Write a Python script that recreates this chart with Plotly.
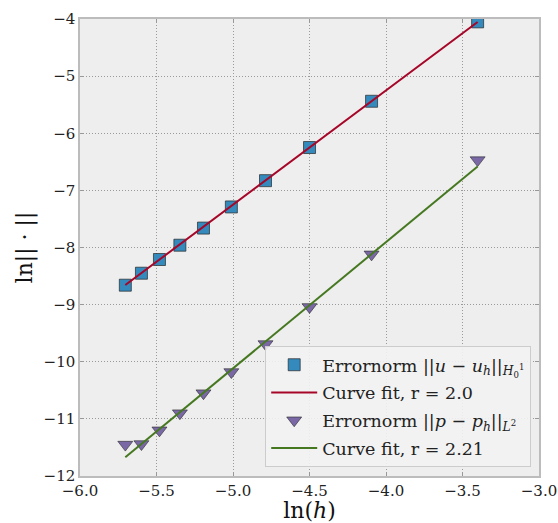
import numpy as np
import plotly.graph_objects as go

# Mesh sizes h = 1/n
n_cells = [300, 270, 240, 210, 180, 150, 120, 90, 60, 30]

# ln of the error norms at each mesh size
err_u_H1 = [-8.66, -8.45, -8.21, -7.96, -7.66, -7.29, -6.83, -6.25, -5.44, -4.05]
err_p_L2 = [-11.45, -11.44, -11.20, -10.90, -10.55, -10.18, -9.69, -9.04, -8.12, -6.47]

# Straight-line fits ln||e|| = r ln(h) + c
fit_rate = [2.0, 2.21]
fit_const = [2.75, 0.934]

ln_h = np.log(1.0 / np.array(n_cells, dtype=float))

BLUE = "#348ABD"
RED = "#A60628"
PURPLE = "#7A68A6"
GREEN = "#467821"
SERIF = "DejaVu Serif, Liberation Serif, serif"

fig = go.Figure()

fig.add_trace(go.Scatter(
    x=ln_h, y=err_u_H1, mode="markers", legendgroup="a",
    marker=dict(symbol="square", size=12, color=BLUE,
                line=dict(color="rgba(40,40,40,0.7)", width=1)),
    name="Errornorm ||<i>u</i> − <i>u</i><sub><i>h</i></sub>||<sub><i>H</i><sub>0</sub><sup>1</sup></sub>",
))
fig.add_trace(go.Scatter(
    x=ln_h, y=fit_rate[0] * ln_h + fit_const[0], mode="lines", legendgroup="b",
    line=dict(color=RED, width=2),
    name="Curve fit, r = 2.0",
))
fig.add_trace(go.Scatter(
    x=ln_h, y=err_p_L2, mode="markers", legendgroup="c",
    marker=dict(symbol="triangle-down", size=13, color=PURPLE,
                line=dict(color="rgba(40,40,40,0.6)", width=1)),
    name="Errornorm ||<i>p</i> − <i>p</i><sub><i>h</i></sub>||<sub><i>L</i><sup>2</sup></sub>",
))
fig.add_trace(go.Scatter(
    x=ln_h, y=fit_rate[1] * ln_h + fit_const[1], mode="lines", legendgroup="d",
    line=dict(color=GREEN, width=2),
    name="Curve fit, r = 2.21",
))

axis_common = dict(
    showgrid=True, gridcolor="#9a9a9a", griddash="1px,2px", gridwidth=1,
    showline=True, linecolor="#bcbcbc", linewidth=1.5, mirror="ticks",
    ticks="inside", ticklen=4, tickcolor="#999999", tickwidth=1,
    zeroline=False, automargin=False,
    tickfont=dict(family=SERIF, size=15, color="#222222"),
)

fig.update_xaxes(
    range=[-6.0, -3.0], tickmode="array",
    tickvals=[-6.0, -5.5, -5.0, -4.5, -4.0, -3.5, -3.0],
    tickformat=".1f",
    title=dict(text="ln(<i>h</i>)", font=dict(family=SERIF, size=22, color="#111111"),
               standoff=6),
    **axis_common,
)
fig.update_yaxes(
    range=[-12, -4], tickmode="array",
    tickvals=[-12, -11, -10, -9, -8, -7, -6, -5, -4],
    title=dict(text="ln|| · ||", font=dict(family=SERIF, size=22, color="#111111"),
               standoff=5),
    **axis_common,
)

fig.update_layout(
    width=558, height=523,
    margin=dict(l=80, r=19, t=19, b=47),
    plot_bgcolor="#eeeeee", paper_bgcolor="white",
    font=dict(family=SERIF, color="#222222"),
    legend=dict(
        x=0.983, y=0.02, xanchor="right", yanchor="bottom",
        bgcolor="rgba(242,242,242,0.9)", bordercolor="#cccccc", borderwidth=1,
        font=dict(family=SERIF, size=17.5, color="#222222"),
        itemwidth=46, tracegroupgap=2,
    ),
    showlegend=True,
)

fig.write_html("out.html")
